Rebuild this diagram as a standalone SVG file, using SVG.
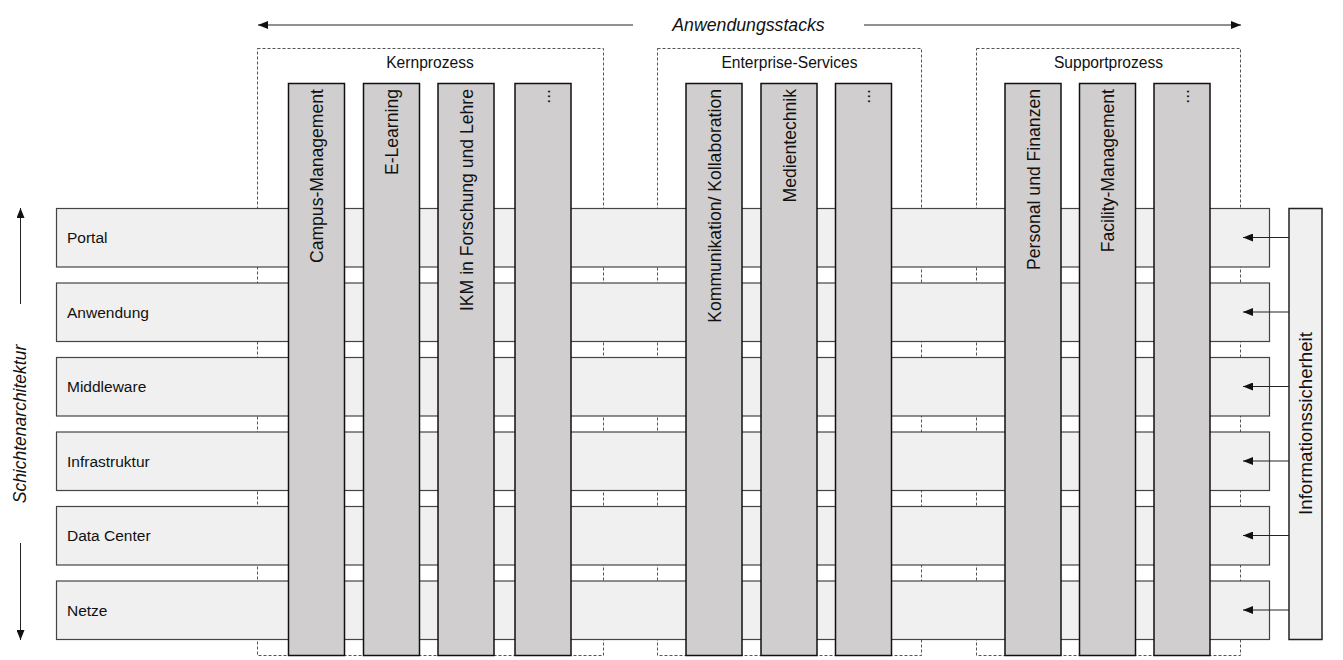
<svg xmlns="http://www.w3.org/2000/svg" width="1343" height="660" viewBox="0 0 1343 660">
<style>
text{font-family:"Liberation Sans",Arial,sans-serif;fill:#111}
.grp{fill:none;stroke:#555;stroke-width:1;stroke-dasharray:3 2}
.layer{fill:#f0f0f0;stroke:#444;stroke-width:1.2}
.col{fill:#d0cece;stroke:#111;stroke-width:1.5}
.lbl{font-size:15.5px}
.gl{font-size:15.6px;text-anchor:middle}
.ct{font-size:17.6px;text-anchor:end}
.conn{stroke:#222;stroke-width:1;fill:none}
</style>
<defs>
<marker id="ah" viewBox="0 0 10 8" refX="10" refY="4" markerWidth="10" markerHeight="8" markerUnits="userSpaceOnUse" orient="auto">
<path d="M0,0 L10,4 L0,8 Z" fill="#111"/>
</marker>
</defs>

<g id="axes">
<line class="conn" x1="633" y1="25" x2="258" y2="25" marker-end="url(#ah)"/>
<line class="conn" x1="864" y1="25" x2="1241" y2="25" marker-end="url(#ah)"/>
<text x="748.5" y="31" font-size="17.7" font-style="italic" text-anchor="middle">Anwendungsstacks</text>
<line class="conn" x1="20.5" y1="304" x2="20.5" y2="208" marker-end="url(#ah)"/>
<line class="conn" x1="20.5" y1="543" x2="20.5" y2="640" marker-end="url(#ah)"/>
<text transform="translate(26,424) rotate(-90)" font-size="17.5" font-style="italic" text-anchor="middle">Schichtenarchitektur</text>
</g>

<g id="group-kernprozess">
<rect class="grp" x="257.5" y="48.5" width="346" height="607"/>
<text class="gl" x="430" y="67.5">Kernprozess</text>
</g>
<g id="group-enterprise">
<rect class="grp" x="657.5" y="48.5" width="264" height="607"/>
<text class="gl" x="789.5" y="67.5">Enterprise-Services</text>
</g>
<g id="group-support">
<rect class="grp" x="976.5" y="48.5" width="264" height="607"/>
<text class="gl" x="1108.5" y="67.5">Supportprozess</text>
</g>

<g id="layer-portal"><rect class="layer" x="56.5" y="208.5" width="1213" height="58.5"/><text class="lbl" x="67" y="243">Portal</text></g>
<g id="layer-anwendung"><rect class="layer" x="56.5" y="283" width="1213" height="58.5"/><text class="lbl" x="67" y="317.5">Anwendung</text></g>
<g id="layer-middleware"><rect class="layer" x="56.5" y="357.5" width="1213" height="58.5"/><text class="lbl" x="67" y="392">Middleware</text></g>
<g id="layer-infrastruktur"><rect class="layer" x="56.5" y="432" width="1213" height="58.5"/><text class="lbl" x="67" y="466.5">Infrastruktur</text></g>
<g id="layer-datacenter"><rect class="layer" x="56.5" y="506.5" width="1213" height="58.5"/><text class="lbl" x="67" y="541">Data Center</text></g>
<g id="layer-netze"><rect class="layer" x="56.5" y="581" width="1213" height="58.5"/><text class="lbl" x="67" y="615.5">Netze</text></g>

<g id="col-campus"><rect class="col" x="288.5" y="83.5" width="56" height="572"/><text class="ct" transform="translate(323,89) rotate(-90)">Campus-Management</text></g>
<g id="col-elearning"><rect class="col" x="363.5" y="83.5" width="56" height="572"/><text class="ct" transform="translate(398,89) rotate(-90)">E-Learning</text></g>
<g id="col-ikm"><rect class="col" x="438" y="83.5" width="56" height="572"/><text class="ct" transform="translate(473,89) rotate(-90)">IKM in Forschung und Lehre</text></g>
<g id="col-kern-more"><rect class="col" x="515" y="83.5" width="56" height="572"/><text class="ct" transform="translate(550,89) rotate(-90)">...</text></g>
<g id="col-kommunikation"><rect class="col" x="686" y="83.5" width="56" height="572"/><text class="ct" transform="translate(721,89) rotate(-90)">Kommunikation/ Kollaboration</text></g>
<g id="col-medientechnik"><rect class="col" x="761" y="83.5" width="56" height="572"/><text class="ct" transform="translate(796,89) rotate(-90)">Medientechnik</text></g>
<g id="col-ent-more"><rect class="col" x="835.5" y="83.5" width="56" height="572"/><text class="ct" transform="translate(870,89) rotate(-90)">...</text></g>
<g id="col-personal"><rect class="col" x="1005" y="83.5" width="56" height="572"/><text class="ct" transform="translate(1040,89) rotate(-90)">Personal und Finanzen</text></g>
<g id="col-facility"><rect class="col" x="1079.5" y="83.5" width="56" height="572"/><text class="ct" transform="translate(1114,89) rotate(-90)">Facility-Management</text></g>
<g id="col-sup-more"><rect class="col" x="1154" y="83.5" width="56" height="572"/><text class="ct" transform="translate(1189,89) rotate(-90)">...</text></g>

<g id="infosec">
<rect x="1289" y="208.5" width="33" height="431" fill="#f0f0f0" stroke="#222" stroke-width="1.5"/>
<text transform="translate(1312,423.5) rotate(-90)" font-size="18.7" text-anchor="middle">Informationssicherheit</text>
</g>

<g id="connectors">
<line class="conn" x1="1289" y1="237.5" x2="1243" y2="237.5" marker-end="url(#ah)"/>
<line class="conn" x1="1289" y1="312" x2="1243" y2="312" marker-end="url(#ah)"/>
<line class="conn" x1="1289" y1="386.5" x2="1243" y2="386.5" marker-end="url(#ah)"/>
<line class="conn" x1="1289" y1="461" x2="1243" y2="461" marker-end="url(#ah)"/>
<line class="conn" x1="1289" y1="535.5" x2="1243" y2="535.5" marker-end="url(#ah)"/>
<line class="conn" x1="1289" y1="610" x2="1243" y2="610" marker-end="url(#ah)"/>
</g>
</svg>
